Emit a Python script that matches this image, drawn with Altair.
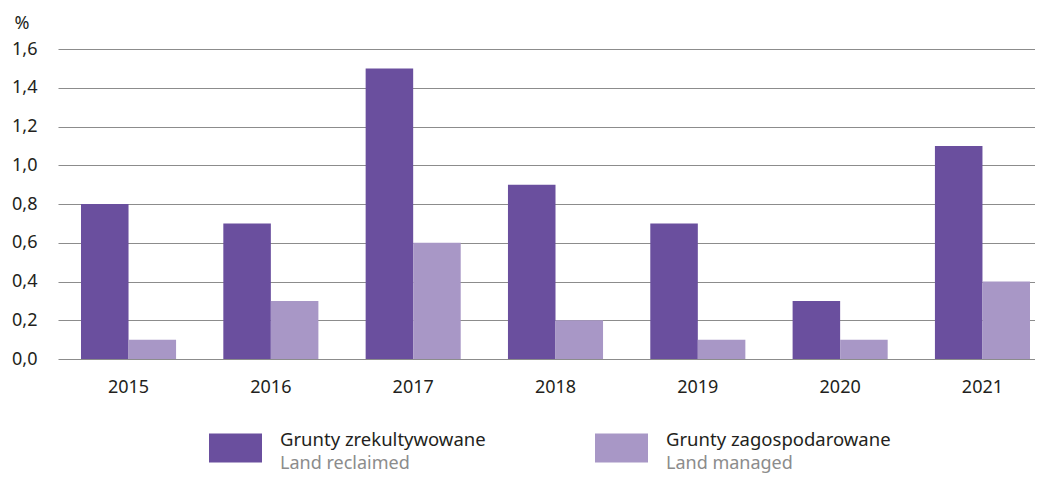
import altair as alt
import pandas as pd

years = ["2015", "2016", "2017", "2018", "2019", "2020", "2021"]
reclaimed = [0.8, 0.7, 1.5, 0.9, 0.7, 0.3, 1.1]
managed = [0.1, 0.3, 0.6, 0.2, 0.1, 0.1, 0.4]
series_pl = ["Grunty zrekultywowane", "Grunty zagospodarowane"]
series_en = ["Land reclaimed", "Land managed"]
colors = ["#6a4f9e", "#a897c6"]
y_ticks = [0.0, 0.2, 0.4, 0.6, 0.8, 1.0, 1.2, 1.4, 1.6]

rows = []
for i, yr in enumerate(years):
    rows.append({"year": yr, "series": series_pl[0], "value": reclaimed[i]})
    rows.append({"year": yr, "series": series_pl[1], "value": managed[i]})
df = pd.DataFrame(rows)
leg = pd.DataFrame({"series": series_pl, "en": series_en})

FONT = "Noto Sans"
W, H = 977, 310
color_scale = alt.Scale(domain=series_pl, range=colors)

bars = alt.Chart(df).mark_bar().encode(
    x=alt.X("year:N", sort=years,
            scale=alt.Scale(range=[0, 995], paddingInner=0.332, paddingOuter=0.1616),
            axis=alt.Axis(title=None, labelAngle=0, ticks=False, domain=False, grid=False,
                          labelPadding=19, labelFontSize=18, labelColor="#231f20",
                          labelFont=FONT)),
    xOffset=alt.XOffset("series:N", sort=series_pl),
    y=alt.Y("value:Q", scale=alt.Scale(domain=[0, 1.6]),
            axis=alt.Axis(values=y_ticks,
                          labelExpr="replace(format(datum.value, '.1f'), '.', ',')",
                          title="%", titleAngle=0, titleX=-44, titleY=-21,
                          titleAlign="left", titleBaseline="alphabetic",
                          titleFontWeight="normal", titleFontSize=18, titleFont=FONT,
                          titleColor="#231f20",
                          grid=True, gridColor="#8c8c8c", gridWidth=1.2,
                          domain=False, ticks=False, labelPadding=21,
                          labelFontSize=18, labelColor="#231f20", labelFont=FONT)),
    color=alt.Color("series:N", scale=color_scale, legend=None),
)

leg_x = alt.X("series:N",
              scale=alt.Scale(type="point", domain=series_pl, range=[177.5, 563.5], padding=0),
              axis=None)

swatch = alt.Chart(leg).mark_point(
    shape="M-1,-0.547L1,-0.547L1,0.547L-1,0.547Z", filled=True, size=2809, opacity=1
).encode(
    x=leg_x,
    y=alt.value(399),
    color=alt.Color("series:N", scale=color_scale, legend=None),
)

text1 = alt.Chart(leg).mark_text(
    align="left", baseline="alphabetic", dx=44.5, fontSize=18.5, color="#231f20", font=FONT
).encode(x=leg_x, y=alt.value(397), text="series:N")

text2 = alt.Chart(leg).mark_text(
    align="left", baseline="alphabetic", dx=44.5, fontSize=18, color="#8c8c8c", font=FONT
).encode(x=leg_x, y=alt.value(420), text="en:N")

chart = alt.layer(bars, swatch, text1, text2).resolve_scale(x="independent").properties(
    width=W, height=H,
    autosize=alt.AutoSizeParams(type="none"),
    padding={"left": 50, "top": 41, "right": 0, "bottom": 114},
).configure_view(stroke=None)

chart.save("out.html", embed_options={"renderer": "svg", "actions": False})
